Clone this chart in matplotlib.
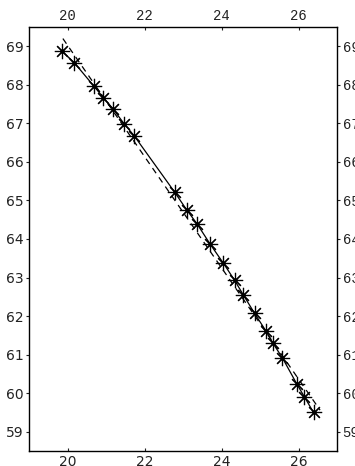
import matplotlib
matplotlib.use("Agg")
import matplotlib.pyplot as plt

# measured points (x, y)
x_pts = [19.86, 20.18, 20.69, 20.93, 21.18, 21.47, 21.73, 22.78, 23.10, 23.36,
         23.71, 24.05, 24.34, 24.56, 24.86, 25.15, 25.34, 25.58, 25.95, 26.15, 26.39]
y_pts = [68.87, 68.57, 67.96, 67.67, 67.38, 66.99, 66.68, 65.22, 64.75, 64.40,
         63.86, 63.37, 62.93, 62.56, 62.07, 61.62, 61.29, 60.92, 60.25, 59.91, 59.50]

# dashed reference line
fit_x = [19.88, 26.56]
fit_y = [69.20, 59.56]

x_ticks = [20, 22, 24, 26]
y_ticks = [59, 60, 61, 62, 63, 64, 65, 66, 67, 68, 69]

fig = plt.figure(figsize=(3.55, 4.66), dpi=100)
ax = fig.add_axes([29 / 355, 15 / 466, 308 / 355, 424 / 466])

ax.plot(fit_x, fit_y, color="black", lw=0.9, ls=(0, (5, 4)))
ax.plot(x_pts, y_pts, color="black", lw=0.9, marker=(8, 2, 0),
        markersize=11, markeredgewidth=0.85)

ax.set_xlim(19.0, 27.0)
ax.set_ylim(58.5, 69.5)
ax.set_xticks(x_ticks)
ax.set_yticks(y_ticks)
ax.tick_params(axis="x", direction="in", length=2, top=True, labeltop=True,
               labelsize=10, pad=3, colors="#222222")
ax.tick_params(axis="y", direction="out", length=2, right=True, labelright=True,
               labelsize=10, pad=2, colors="#222222")
for sp in ax.spines.values():
    sp.set_linewidth(1.0)

for t in ax.xaxis.get_major_ticks():
    t.label1.set_fontfamily("DejaVu Sans")
    t.label2.set_fontfamily("Liberation Mono")
for t in ax.yaxis.get_major_ticks():
    t.label1.set_fontfamily("DejaVu Sans")
    t.label2.set_fontfamily("Liberation Mono")

fig.savefig("out.png", dpi=100)
